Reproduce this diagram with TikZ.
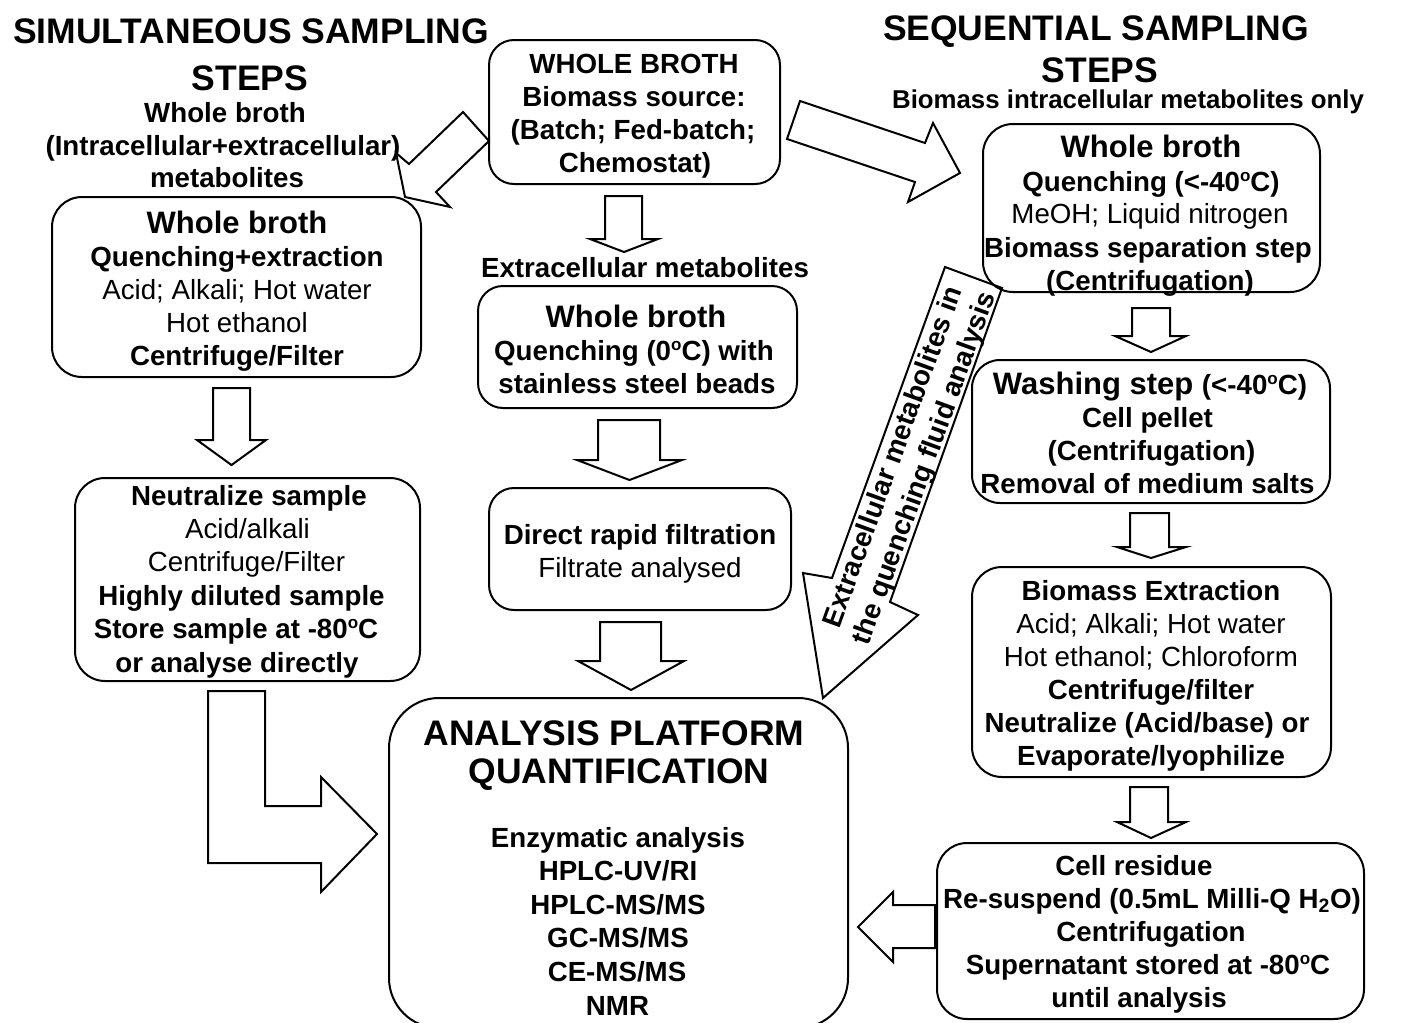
\documentclass[tikz,border=0pt]{standalone}
\usepackage{fontspec}
\setmainfont{Liberation Sans}
\newcommand\dego{\raisebox{0.36em}{\fontsize{17}{17}\selectfont o}}
\begin{document}
\begin{tikzpicture}[x=1pt,y=-1pt,
  box/.style={draw, line width=2pt, inner sep=0pt, outer sep=0pt},
  blk/.style={draw, line width=2pt, fill=white, line join=miter},
  tb/.style={anchor=base, inner sep=0pt, font=\fontsize{27.7}{33}\selectfont\bfseries},
  tr/.style={anchor=base, inner sep=0pt, font=\fontsize{27.7}{33}\selectfont},
  th/.style={anchor=base, inner sep=0pt, font=\fontsize{31}{37}\selectfont\bfseries},
  tt/.style={anchor=base, inner sep=0pt, font=\fontsize{35.5}{42}\selectfont\bfseries}]
\useasboundingbox (0,0) rectangle (1409,1023);

% ---------- block arrows ----------
% left diagonal
\draw[blk] (463,112) -- (489,141) -- (436,192) -- (450,207) -- (405,197) -- (396,153) -- (409,164) -- cycle;
% right diagonal
\draw[blk] (800,101) -- (925,143) -- (933,123) -- (960,173) -- (908,202) -- (915,182) -- (787,139) -- cycle;
% big diagonal with text
\draw[blk] (945,267) -- (1002,288) -- (890,602) -- (918,615) -- (823,698) -- (803,573) -- (832,578) -- cycle;
% down arrows
\draw[blk] (605,196) -- (642,196) -- (642,239) -- (658,239) -- (624,252) -- (590,239) -- (605,239) -- cycle;
\draw[blk] (213,388) -- (250,388) -- (250,440) -- (266,440) -- (231.5,465) -- (197,440) -- (213,440) -- cycle;
\draw[blk] (598,420) -- (660,420) -- (660,460) -- (682,460) -- (629.5,480) -- (577,460) -- (598,460) -- cycle;
\draw[blk] (600,622) -- (661,622) -- (661,661) -- (684,661) -- (631,690) -- (578,661) -- (600,661) -- cycle;
\draw[blk] (1132,308) -- (1170,308) -- (1170,336) -- (1186,336) -- (1151,352) -- (1115,336) -- (1132,336) -- cycle;
\draw[blk] (1130,513) -- (1169,513) -- (1169,547) -- (1186,547) -- (1151,558) -- (1117,547) -- (1130,547) -- cycle;
\draw[blk] (1130,787) -- (1168,787) -- (1168,822) -- (1186,822) -- (1151,838) -- (1117,822) -- (1130,822) -- cycle;
% left-pointing arrow
\draw[blk] (935,905) -- (935,948) -- (893,948) -- (893,962) -- (858,927) -- (893,892) -- (893,905) -- cycle;
% L arrow
\draw[blk] (208,691) -- (265,691) -- (265,806) -- (321,806) -- (321,777) -- (377,834) -- (321,892) -- (321,863) -- (208,863) -- cycle;

% ---------- boxes ----------
\node[box, rounded corners=25pt, minimum width=291pt, minimum height=144pt] (top) at (634.5,112) {};
\node[box, rounded corners=30pt, minimum width=369pt, minimum height=180pt] (l1) at (236.5,287) {};
\node[box, rounded corners=30pt, minimum width=345pt, minimum height=203pt] (l2) at (247.5,579.5) {};
\node[box, rounded corners=25pt, minimum width=319pt, minimum height=122pt] (c1) at (637.5,347) {};
\node[box, rounded corners=25pt, minimum width=302pt, minimum height=122pt] (c2) at (640,549) {};
\node[box, rounded corners=50pt, minimum width=459pt, minimum height=330pt] (an) at (618.5,863) {};
\node[box, rounded corners=30pt, minimum width=337pt, minimum height=168pt] (r1) at (1151.5,208) {};
\node[box, rounded corners=28pt, minimum width=358pt, minimum height=143pt] (r2) at (1151,431.5) {};
\node[box, rounded corners=30pt, minimum width=359pt, minimum height=210pt] (r3) at (1151.5,672) {};
\node[box, rounded corners=30pt, minimum width=427pt, minimum height=176pt] (r4) at (1150.5,931) {};

% ---------- titles ----------
\node[tt] (ts1) at (251,43) {SIMULTANEOUS SAMPLING};
\node[tt] (ts2) at (250,90) {STEPS};
\node[tb] (ts3) at (225,122) {Whole broth};
\node[tb] (ts4) at (223,155) {(Intracellular+extracellular)};
\node[tb] (ts5) at (227,187) {metabolites};

\node[tt] (tq1) at (1096,40) {SEQUENTIAL SAMPLING};
\node[tt] (tq2) at (1100,82) {STEPS};
\node[anchor=base, inner sep=0pt, font=\fontsize{25.8}{31}\selectfont\bfseries] (tq3) at (1128,108) {Biomass intracellular metabolites only};

% ---------- top box ----------
\node[tb] (a1) at (634,73) {WHOLE BROTH};
\node[tb] (a2) at (634,106) {Biomass source:};
\node[tb] (a3) at (633,139) {(Batch; Fed-batch;};
\node[tb] (a4) at (635,172) {Chemostat)};

% ---------- left box 1 ----------
\node[th] (b1) at (237,233) {Whole broth};
\node[tb] (b2) at (237,266) {Quenching+extraction};
\node[tr] (b3) at (237,299) {Acid; Alkali; Hot water};
\node[tr] (b4) at (237,332) {Hot ethanol};
\node[tb] (b5) at (237,365) {Centrifuge/Filter};

% ---------- left box 2 ----------
\node[tb] (d1) at (249,505) {Neutralize sample};
\node[tr] (d2) at (247.5,538) {Acid/alkali};
\node[tr] (d3) at (246.5,571) {Centrifuge/Filter};
\node[tb] (d4) at (241.5,605) {Highly diluted sample};
\node[tb] (d5) at (236,638) {Store sample at -80\dego C};
\node[tb] (d6) at (237,672) {or analyse directly};

% ---------- center ----------
\node[tb] (e0) at (645,277) {Extracellular metabolites};
\node[th] (e1) at (636,327) {Whole broth};
\node[tb] (e2) at (634,360) {Quenching (0\dego C) with};
\node[tb] (e3) at (637,393) {stainless steel beads};
\node[tb] (f1) at (640,544) {Direct rapid filtration};
\node[tr] (f2) at (640,577) {Filtrate analysed};

% ---------- analysis ----------
\node[tt] (g1) at (614,745) {ANALYSIS PLATFORM};
\node[tt] (g2) at (619,783) {QUANTIFICATION};
\node[tb] (g3) at (618,847) {Enzymatic analysis};
\node[tb] (g4) at (618,880.6) {HPLC-UV/RI};
\node[tb] (g5) at (618,914.2) {HPLC-MS/MS};
\node[tb] (g6) at (618,947.8) {GC-MS/MS};
\node[tb] (g7) at (617,981.4) {CE-MS/MS};
\node[tb] (g8) at (617.5,1015) {NMR};

% ---------- right box 1 ----------
\node[th] (h1) at (1151,157) {Whole broth};
\node[tb] (h2) at (1151,191) {Quenching (<-40\dego C)};
\node[tr] (h3) at (1150,223) {MeOH; Liquid nitrogen};
\node[tb] (h4) at (1148,257) {Biomass separation step};
\node[tb] (h5) at (1150,290) {(Centrifugation)};

% ---------- right box 2 ----------
\node[anchor=base, inner sep=0pt] (i1) at (1150,394) {\fontsize{31}{37}\selectfont\bfseries Washing step \fontsize{27.7}{33}\selectfont(<-40\dego C)};
\node[tb] (i2) at (1147.5,427) {Cell pellet};
\node[tb] (i3) at (1151.5,460) {(Centrifugation)};
\node[tb] (i4) at (1147.5,493) {Removal of medium salts};

% ---------- right box 3 ----------
\node[tb] (j1) at (1151,600) {Biomass Extraction};
\node[tr] (j2) at (1151,633) {Acid; Alkali; Hot water};
\node[tr] (j3) at (1151,666) {Hot ethanol; Chloroform};
\node[tb] (j4) at (1151,699) {Centrifuge/filter};
\node[tb] (j5) at (1147,732) {Neutralize (Acid/base) or};
\node[tb] (j6) at (1151,765) {Evaporate/lyophilize};

% ---------- right box 4 ----------
\node[tb] (k1) at (1134,875) {Cell residue};
\node[tb] (k2) at (1152,908) {Re-suspend (0.5mL Milli-Q H\textsubscript{2}O)};
\node[tb] (k3) at (1151,941) {Centrifugation};
\node[tb] (k4) at (1148,974) {Supernatant stored at -80\dego C};
\node[tb] (k5) at (1139,1007) {until analysis};

% ---------- diagonal arrow text ----------
\node[inner sep=0pt, align=center, rotate=70, font=\fontsize{27.7}{33}\selectfont\bfseries] (x1) at (910,463) {Extracellular metabolites in\\the quenching fluid analysis};
\end{tikzpicture}
\end{document}
